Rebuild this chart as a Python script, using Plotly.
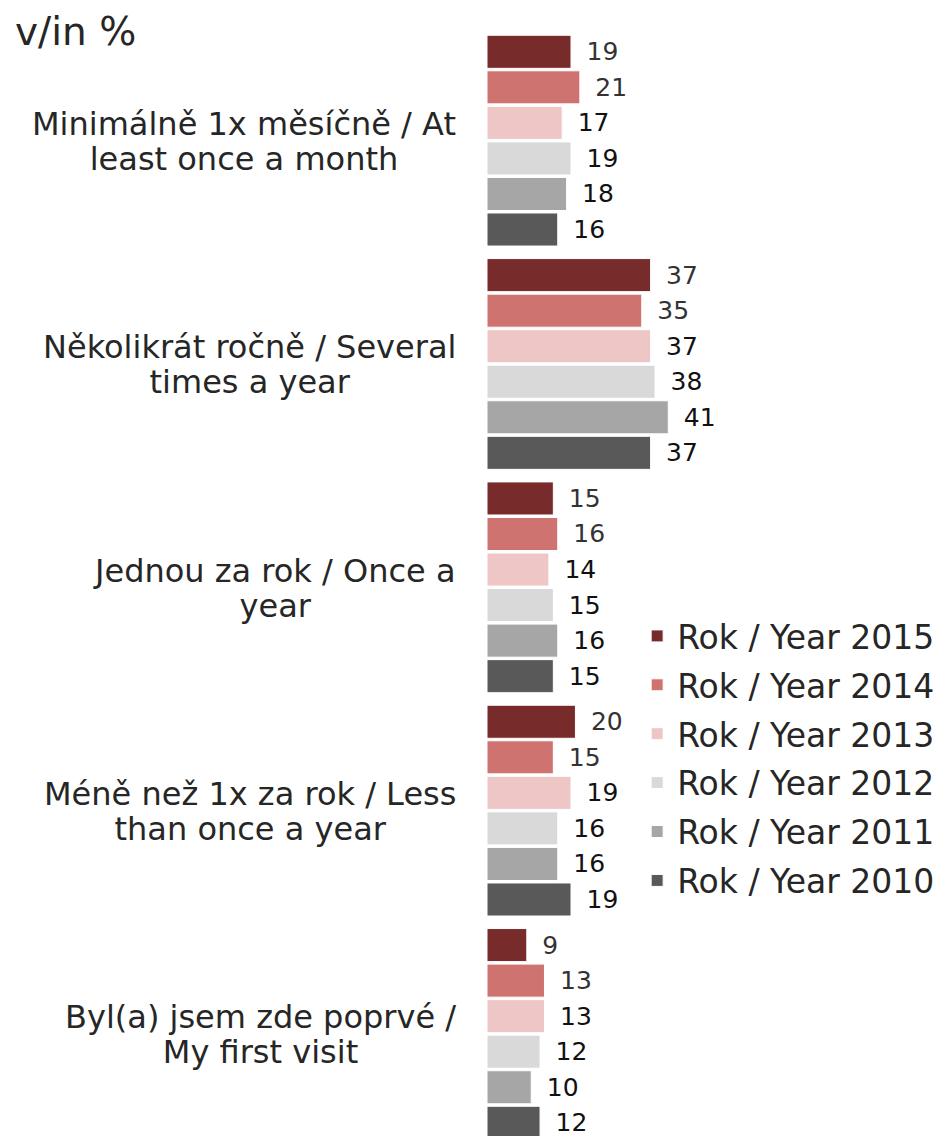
import plotly.graph_objects as go

categories = [
    "Minimálně 1x měsíčně / At<br>least once a month",
    "Několikrát ročně / Several<br>times a year",
    "Jednou za rok / Once a<br>year",
    "Méně než 1x za rok / Less<br>than once a year",
    "Byl(a) jsem zde poprvé /<br>My first visit",
]
series_names = ["Rok / Year 2015", "Rok / Year 2014", "Rok / Year 2013",
                "Rok / Year 2012", "Rok / Year 2011", "Rok / Year 2010"]
values_2015 = [19, 37, 15, 20, 9]
values_2014 = [21, 35, 16, 15, 13]
values_2013 = [17, 37, 14, 19, 13]
values_2012 = [19, 38, 15, 16, 12]
values_2011 = [18, 41, 16, 16, 10]
values_2010 = [16, 37, 15, 19, 12]
series_values = [values_2015, values_2014, values_2013, values_2012, values_2011, values_2010]
colors = ["#772B2B", "#CF7370", "#EEC6C6", "#D9D9D9", "#A6A6A6", "#595959"]
label_colors = ["#333333", "#333333", "#111111", "#111111", "#111111", "#111111"]

FONT = "DejaVu Sans"
TEXT = "#262626"
cat_idx = list(range(len(categories)))

W, H = 934, 1128

fig = go.Figure()
for name, vals, col, lcol in zip(series_names, series_values, colors, label_colors):
    fig.add_trace(go.Bar(
        name=name, y=cat_idx, x=vals, orientation="h",
        marker=dict(color=col, line=dict(color="white", width=1)),
        text=["\u2002" + str(v) for v in vals],
        textposition="outside", cliponaxis=False, constraintext="none",
        textfont=dict(family=FONT, size=25, color=lcol),
        legendgroup=name,
    ))

for i, c in enumerate(categories):
    styled = "<br>".join(
        "<span style='font-size:32px'>" + line + "</span>" for line in c.split("<br>")
    )
    fig.add_annotation(
        x=0, y=i, xref="x", yref="y", text=styled, showarrow=False,
        xanchor="right", yanchor="middle", align="center", xshift=-29, yshift=-1,
        font=dict(family=FONT, size=27, color=TEXT),
    )

fig.update_layout(
    width=W, height=H,
    margin=dict(l=479, r=0, t=21, b=0),
    paper_bgcolor="white", plot_bgcolor="white",
    barmode="group", bargap=0.045, bargroupgap=0.07,
    title=dict(text="v/in %", x=7/W, xanchor="left", xref="container",
               y=1 - 23/H, yanchor="middle", yref="container",
               font=dict(family=FONT, size=39, color=TEXT)),
    xaxis=dict(range=[0, 102.9], visible=False),
    yaxis=dict(range=[4.457, -0.5], visible=False),
    legend=dict(x=0.33, y=0.477, xanchor="left", yanchor="top",
                font=dict(family=FONT, size=33, color=TEXT),
                tracegroupgap=3, traceorder="grouped",
                bgcolor="rgba(0,0,0,0)"),
    showlegend=True,
)

fig.write_html("out.html")
